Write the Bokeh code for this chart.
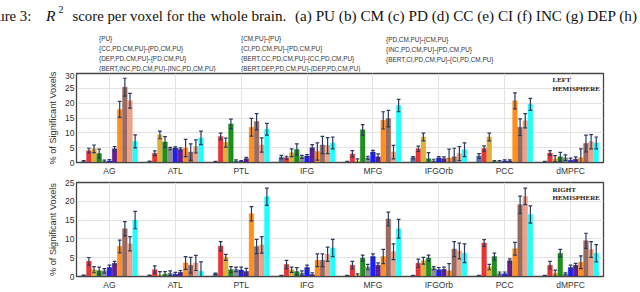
from bokeh.plotting import figure
from bokeh.layouts import column
from bokeh.models import (ColumnDataSource, Legend, LegendItem, Label, FactorRange,
                          Range1d, SingleIntervalTicker)
from bokeh.transform import dodge
from bokeh.embed import file_html
from bokeh.resources import INLINE

categories = ["AG", "ATL", "PTL", "IFG", "MFG", "IFGOrb", "PCC", "dMPFC"]
series_labels = [
    "{PU}", "{CM,PU}-{PU}", "{PD,CM,PU}-{CM,PU}",
    "{CC,PD,CM,PU}-{PD,CM,PU}", "{CI,PD,CM,PU}-{PD,CM,PU}", "{INC,PD,CM,PU}-{PD,CM,PU}",
    "{DEP,PD,CM,PU}-{PD,CM,PU}", "{BERT,CC,PD,CM,PU}-{CC,PD,CM,PU}", "{BERT,CI,PD,CM,PU}-{CI,PD,CM,PU}",
    "{BERT,INC,PD,CM,PU}-{INC,PD,CM,PU}", "{BERT,DEP,PD,CM,PU}-{DEP,PD,CM,PU}",
]
series_colors = ["#34689a", "#e31a1c", "#daa520", "#008000", "#808080", "#0000ff",
                 "#4b0082", "#ff7f00", "#8c564b", "#e9967a", "#00ffff"]

# ---- LEFT hemisphere (% of significant voxels) ----
left_pu = [0.3, 0.3, 0.2, 1.8, 0.2, 1.6, 2.2, 0.2]
left_cm = [4.0, 3.1, 8.8, 1.6, 2.9, 4.6, 4.7, 3.2]
left_pd = [4.6, 9.3, 6.7, 3.3, 0.4, 8.6, 8.6, 1.3]
left_cc = [3.0, 6.9, 13.0, 4.4, 11.0, 1.3, 0.3, 1.9]
left_ci = [0.4, 4.7, 0.5, 1.9, 1.6, 0.6, 0.3, 1.6]
left_inc = [0.5, 4.9, 0.3, 2.2, 3.5, 1.5, 0.5, 0.8]
left_dep = [4.6, 4.4, 1.3, 5.0, 1.9, 1.3, 0.5, 1.1]
left_bcc = [17.9, 4.9, 11.9, 3.7, 14.2, 1.5, 20.8, 1.6]
left_bci = [25.4, 3.5, 13.8, 5.9, 14.8, 1.9, 11.9, 6.4]
left_binc = [20.8, 5.4, 5.9, 5.7, 3.5, 3.0, 14.1, 7.0]
left_bdep = [7.1, 8.3, 11.2, 6.6, 19.2, 4.3, 19.6, 6.6]

left_pu_err = [0.3, 0.2, 0.2, 0.6, 0.2, 0.4, 0.8, 0.2]
left_cm_err = [0.8, 0.8, 1.1, 0.5, 1.1, 0.9, 0.9, 0.8]
left_pd_err = [1.3, 1.3, 1.5, 1.3, 0.8, 1.3, 1.3, 1.0]
left_cc_err = [1.5, 1.8, 1.6, 1.9, 1.8, 2.0, 0.3, 1.5]
left_ci_err = [0.4, 0.4, 0.4, 0.5, 0.5, 0.5, 0.3, 1.0]
left_inc_err = [0.5, 0.4, 0.3, 0.5, 0.6, 0.5, 0.4, 0.7]
left_dep_err = [0.8, 0.5, 0.4, 1.0, 1.0, 0.6, 0.4, 0.8]
left_bcc_err = [2.7, 2.9, 3.0, 2.9, 2.9, 3.0, 2.7, 3.0]
left_bci_err = [3.0, 2.8, 2.7, 2.9, 2.8, 2.9, 2.8, 2.8]
left_binc_err = [2.5, 2.2, 2.4, 2.7, 2.3, 2.4, 2.4, 2.4]
left_bdep_err = [2.2, 2.3, 2.0, 2.0, 2.1, 2.3, 2.0, 2.0]

# ---- RIGHT hemisphere ----
right_pu = [0.25, 0.25, 0.7, 0.2, 0.2, 0.2, 0.2, 0.2]
right_cm = [4.05, 1.8, 8.1, 3.2, 3.0, 3.5, 8.9, 3.0]
right_pd = [1.8, 0.4, 5.1, 1.8, 0.3, 4.2, 2.5, 0.9]
right_cc = [1.5, 0.6, 1.8, 1.35, 4.9, 4.9, 5.3, 6.2]
right_ci = [1.5, 0.9, 1.9, 0.9, 2.5, 2.2, 0.8, 0.7]
right_inc = [2.4, 0.6, 1.7, 2.4, 5.3, 1.8, 0.7, 2.4]
right_dep = [3.5, 1.1, 1.35, 0.5, 3.0, 1.9, 4.2, 3.0]
right_bcc = [8.0, 3.6, 16.7, 4.3, 5.3, 1.5, 7.4, 3.8]
right_bci = [12.7, 3.0, 8.0, 4.3, 15.3, 7.3, 19.1, 9.5]
right_binc = [8.7, 3.6, 8.4, 5.9, 6.6, 6.8, 21.3, 7.2]
right_bdep = [15.0, 1.4, 21.2, 7.6, 12.7, 6.2, 16.5, 6.2]

right_pu_err = [0.1, 0.1, 0.2, 0.1, 0.1, 0.1, 0.1, 0.1]
right_cm_err = [1.0, 1.0, 1.2, 1.1, 1.0, 1.1, 0.9, 1.0]
right_pd_err = [0.8, 0.9, 0.8, 0.7, 0.4, 0.9, 0.7, 0.8]
right_cc_err = [1.0, 0.7, 0.8, 1.0, 0.8, 0.8, 0.9, 1.0]
right_ci_err = [0.6, 0.6, 0.6, 0.6, 0.7, 0.4, 0.4, 0.3]
right_inc_err = [0.6, 0.5, 0.8, 0.6, 0.7, 0.6, 0.5, 0.6]
right_dep_err = [0.5, 0.5, 0.8, 0.5, 0.6, 0.6, 0.5, 0.5]
right_bcc_err = [1.7, 1.7, 1.9, 1.7, 1.9, 1.9, 1.7, 1.7]
right_bci_err = [1.9, 2.1, 1.9, 1.7, 1.8, 2.0, 2.3, 2.0]
right_binc_err = [1.9, 2.0, 2.2, 1.9, 2.1, 2.1, 2.2, 2.1]
right_bdep_err = [2.3, 2.5, 2.3, 2.3, 2.5, 2.5, 2.3, 2.3]

left_values = [left_pu, left_cm, left_pd, left_cc, left_ci, left_inc, left_dep,
               left_bcc, left_bci, left_binc, left_bdep]
left_errors = [left_pu_err, left_cm_err, left_pd_err, left_cc_err, left_ci_err, left_inc_err,
               left_dep_err, left_bcc_err, left_bci_err, left_binc_err, left_bdep_err]
right_values = [right_pu, right_cm, right_pd, right_cc, right_ci, right_inc, right_dep,
                right_bcc, right_bci, right_binc, right_bdep]
right_errors = [right_pu_err, right_cm_err, right_pd_err, right_cc_err, right_ci_err, right_inc_err,
                right_dep_err, right_bcc_err, right_bci_err, right_binc_err, right_bdep_err]

W = 640
STEP = 0.078
BAR_W = 0.07
CAP = 0.028
ERR_COLOR = "#2b3a5a"
TXT = "#333333"


def no_align(p):
    if "frame_align" in p.properties():
        p.frame_align = False


def make_panel(values, errors, y_end, height, top_border, bottom_border, hemi_lines, hemi_y):
    p = figure(x_range=FactorRange(factors=categories, range_padding=0, factor_padding=0),
               y_range=Range1d(0, y_end), width=W, height=height,
               output_backend="svg", toolbar_location=None, title=None,
               min_border_left=76, min_border_right=37,
               min_border_top=top_border, min_border_bottom=bottom_border)
    no_align(p)
    p.outline_line_color = "#444444"
    p.outline_line_width = 1.3
    p.xgrid.grid_line_color = "#e3e3e3"
    p.ygrid.grid_line_color = "#e3e3e3"
    p.yaxis.ticker = SingleIntervalTicker(interval=5)
    for ax in (p.xaxis, p.yaxis):
        ax.major_tick_out = 0
        ax.major_tick_in = 0
        ax.minor_tick_out = 0
        ax.minor_tick_in = 0
        ax.axis_line_color = "#444444"
        ax.major_label_text_font = "Liberation Sans"
        ax.major_label_text_font_size = "8.5px"
        ax.major_label_text_color = TXT
    p.xaxis.major_label_standoff = 3
    p.yaxis.major_label_standoff = 2
    p.yaxis.axis_label = "% of Significant Voxels"
    p.yaxis.axis_label_text_font = "Liberation Sans"
    p.yaxis.axis_label_text_font_size = "9.2px"
    p.yaxis.axis_label_text_font_style = "normal"
    p.yaxis.axis_label_text_color = TXT
    p.yaxis.axis_label_standoff = 4

    for i, (vals, errs) in enumerate(zip(values, errors)):
        off = (i - 5) * STEP
        src = ColumnDataSource(dict(
            cat=categories, val=vals,
            lo=[v - e for v, e in zip(vals, errs)],
            hi=[v + e for v, e in zip(vals, errs)]))
        p.vbar(x=dodge("cat", off, range=p.x_range), top="val", width=BAR_W,
               source=src, fill_color=series_colors[i], fill_alpha=0.88,
               line_color=series_colors[i], line_width=0.4)
        xc = dodge("cat", off, range=p.x_range)
        p.segment(x0=xc, y0="lo", x1=xc, y1="hi", source=src,
                  line_color=ERR_COLOR, line_width=1.2)
        for key in ("lo", "hi"):
            p.segment(x0=dodge("cat", off - CAP, range=p.x_range), y0=key,
                      x1=dodge("cat", off + CAP, range=p.x_range), y1=key,
                      source=src, line_color=ERR_COLOR, line_width=1.2)

    for txt, yy in zip(hemi_lines, hemi_y):
        p.add_layout(Label(x=476, y=yy, x_units="screen", y_units="data", text=txt,
                           text_font="Liberation Serif", text_font_size="7px",
                           text_font_style="bold", text_color="#222222",
                           text_baseline="middle", text_align="left"))
    return p


# ---- header: caption + legend (frame = whole canvas, 1 unit = 1 px) ----
HEAD_H = 72
header = figure(width=W, height=HEAD_H, x_range=Range1d(0, W), y_range=Range1d(0, HEAD_H),
                x_axis_type=None, y_axis_type=None, output_backend="svg",
                toolbar_location=None, title=None,
                min_border_left=0, min_border_right=0, min_border_top=0, min_border_bottom=0)
no_align(header)
header.outline_line_color = None
header.xgrid.visible = False
header.ygrid.visible = False

swatches = [header.vbar(x=[], top=[], width=1, fill_color=c, fill_alpha=0.88,
                        line_color=c, line_width=0.4) for c in series_colors]

col_x = [88, 230, 375]
PITCH = 8.7
for c in range(3):
    idx = list(range(c, 11, 3))
    items = [LegendItem(label=series_labels[k], renderers=[swatches[k]]) for k in idx]
    leg = Legend(items=items, location=(col_x[c], 0.5 + (4 - len(idx)) * PITCH),
                 orientation="vertical", glyph_width=5, glyph_height=5,
                 label_standoff=6, spacing=3, padding=0, margin=0,
                 label_height=6, label_width=20,
                 label_text_font="Liberation Sans", label_text_font_size="6.4px",
                 label_text_color=TXT, border_line_alpha=0,
                 background_fill_alpha=0)
    header.add_layout(leg)

CAP_FONT = "14.8px"
CAP_Y = HEAD_H - 15
cap_parts = [
    (-23.0, CAP_Y, "Figure 3:", "normal", CAP_FONT, "left"),
    (45.5, CAP_Y, "R", "italic", "15.6px", "left"),
    (58.0, CAP_Y + 6, "2", "normal", "10px", "left"),
    (72.0, CAP_Y, "score per voxel for the", "normal", CAP_FONT, "left"),
    (210.0, CAP_Y, "whole brain.", "normal", "15.2px", "left"),
    (637.0, CAP_Y, "(a) PU (b) CM (c) PD (d) CC (e) CI (f) INC (g) DEP (h)",
     "normal", "15.2px", "right"),
]
for x, y, txt, style, size, align in cap_parts:
    header.add_layout(Label(x=x, y=y, text=txt, text_font="Liberation Serif",
                            text_font_style=style, text_font_size=size,
                            text_align=align,
                            text_color="#111111", text_baseline="alphabetic"))

top = make_panel(left_values, left_errors, 30, 106, 1, 14,
                 ["LEFT", "HEMISPHERE"], [27.7, 24.7])
bottom = make_panel(right_values, right_errors, 25, 114, 4, 13,
                    ["RIGHT", "HEMISPHERE"], [23.0, 20.95])

layout = column(header, top, bottom, spacing=0)
open("out.html", "w").write(file_html(layout, INLINE))
